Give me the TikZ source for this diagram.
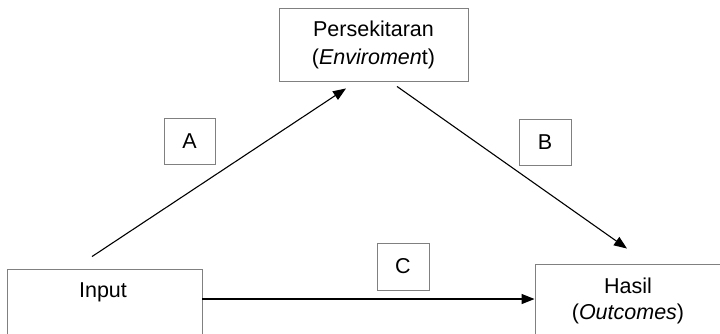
\documentclass[tikz,border=0pt]{standalone}
\usepackage{fontspec}
\setmainfont{Liberation Sans}
\usetikzlibrary{arrows.meta}
\begin{document}
\begin{tikzpicture}[x=1pt,y=-1pt,
  box/.style={draw=black!50,line width=0.9pt,inner sep=0pt},
  lbl/.style={font=\fontsize{21.5}{26}\selectfont,align=center,inner sep=0pt},
  arr/.style={line width=1.1pt,-{Triangle[length=13pt,width=10pt]}}]
\useasboundingbox (0,0) rectangle (720,333);
\clip (0,0) rectangle (720,333);
% boxes
\node[box,minimum width=189pt,minimum height=73pt,lbl,font=\fontsize{21.5}{28}\selectfont] (env) at (373.5,44.5) {Persekitaran\\(\textit{Enviromen}t)};
\node[box,minimum width=195pt,minimum height=80pt] (input) at (104.5,309) {};
\node[lbl] (inputtxt) at (103,292) {Input};
\node[box,minimum width=186pt,minimum height=80pt] (hasil) at (628,304) {};
\node[lbl] (hasiltxt) at (628,301) {Hasil\\(\textit{Outcomes})};
\node[box,minimum width=51pt,minimum height=46pt,lbl] (A) at (189.5,141) {A};
\node[box,minimum width=52pt,minimum height=46pt,lbl] (B) at (545,142) {B};
\node[box,minimum width=52pt,minimum height=47pt,lbl] (C) at (403,266.5) {C};
% connectors
\draw[arr] ([xshift=-12.5pt,yshift=12pt]input.north) -- ([xshift=-27.5pt,yshift=-7pt]env.south);
\draw[arr] ([xshift=23.5pt,yshift=-5pt]env.south) -- ([xshift=-1pt,yshift=15pt]hasil.north);
\coordinate (cstart) at ([yshift=10pt]input.east);
\draw[arr,line width=1.3pt] (cstart) -- (cstart -| hasil.west);
\end{tikzpicture}
\end{document}
